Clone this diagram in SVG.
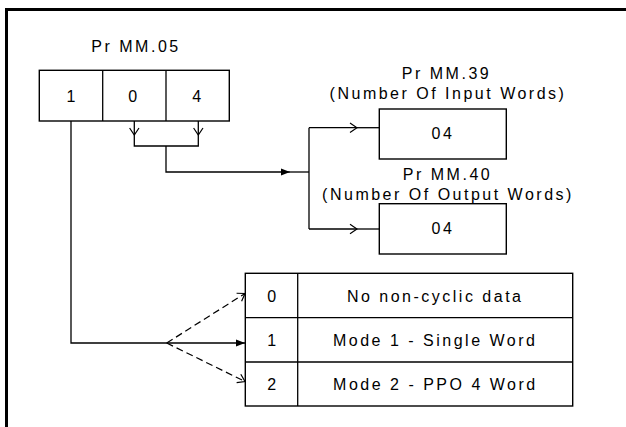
<svg xmlns="http://www.w3.org/2000/svg" width="626" height="427" viewBox="0 0 626 427">
<style>
text{font-family:"Liberation Sans",Arial,sans-serif;font-size:16px;fill:#000;text-anchor:middle}
.ls{letter-spacing:2.5px}
.box{fill:#fff;stroke:#000;stroke-width:1.4}
.ln{fill:none;stroke:#000;stroke-width:1.3}
.dash{fill:none;stroke:#000;stroke-width:1.2;stroke-dasharray:7 4}
.frame{fill:none;stroke:#000;stroke-width:3}
</style>
<defs>
<marker id="open" markerUnits="userSpaceOnUse" viewBox="-9 -6 10 12" markerWidth="10" markerHeight="12" refX="0" refY="0" orient="auto">
<path d="M-7,-4.7 L0,0 L-7,4.7" fill="none" stroke="#000" stroke-width="1.2"/>
</marker>
<marker id="filled" markerUnits="userSpaceOnUse" viewBox="-10 -5 11 10" markerWidth="11" markerHeight="10" refX="0" refY="0" orient="auto">
<path d="M-9,-3.5 L0,0 L-9,3.5 Z" fill="#000"/>
</marker>
</defs>
<path class="frame" d="M6.5,427 V9.5 H626"/>
<g id="pr05">
<text class="ls" x="136" y="51.5">Pr MM.05</text>
<rect class="box" x="39.3" y="70.3" width="190" height="50.7"/>
<line class="ln" x1="102.7" y1="70.3" x2="102.7" y2="121"/>
<line class="ln" x1="166" y1="70.3" x2="166" y2="121"/>
<text x="71" y="101.7">1</text>
<text x="132.7" y="101.7">0</text>
<text x="196.7" y="101.7">4</text>
</g>
<g id="pr39">
<text class="ls" x="446.5" y="79.3">Pr MM.39</text>
<text class="ls" x="448" y="99.3">(Number Of Input Words)</text>
<rect class="box" x="379.3" y="109" width="127" height="50"/>
<text class="ls" x="443" y="139">04</text>
</g>
<g id="pr40">
<text class="ls" x="447.5" y="180">Pr MM.40</text>
<text class="ls" x="448" y="200">(Number Of Output Words)</text>
<rect class="box" x="379.3" y="203.7" width="127" height="50.3"/>
<text class="ls" x="443" y="234">04</text>
</g>
<g id="modes">
<rect class="box" x="245.3" y="273.3" width="327.4" height="132.7"/>
<line class="ln" x1="297.7" y1="273.3" x2="297.7" y2="406"/>
<line class="ln" x1="245.3" y1="317.7" x2="572.7" y2="317.7"/>
<line class="ln" x1="245.3" y1="362" x2="572.7" y2="362"/>
<text x="271.6" y="301.5">0</text>
<text x="271.6" y="345.6">1</text>
<text x="271.6" y="389.6">2</text>
<text class="ls" x="435.2" y="301.5">No non-cyclic data</text>
<text class="ls" x="435.2" y="345.6">Mode 1 - Single Word</text>
<text class="ls" x="435.4" y="389.6">Mode 2 - PPO 4 Word</text>
</g>
<g id="connectors">
<path class="ln" d="M134.3,121 V135" marker-end="url(#open)"/>
<path class="ln" d="M198.3,121 V135" marker-end="url(#open)"/>
<path class="ln" d="M134.3,135 V146 H198.3 V135"/>
<path class="ln" d="M166,146 V172 H290" marker-end="url(#filled)"/>
<path class="ln" d="M290,172 H309"/>
<path class="ln" d="M309,127.7 V229"/>
<path class="ln" d="M309,127.7 H357" marker-end="url(#open)"/>
<path class="ln" d="M357,127.7 H379.3"/>
<path class="ln" d="M309,229 H357" marker-end="url(#open)"/>
<path class="ln" d="M357,229 H379.3"/>
<path class="ln" d="M71,121 V343 H245" marker-end="url(#filled)"/>
<path class="dash" d="M166.7,343 L245,293.5" marker-end="url(#open)"/>
<path class="dash" d="M166.7,343 L245,381.5" marker-end="url(#open)"/>
</g>
</svg>
